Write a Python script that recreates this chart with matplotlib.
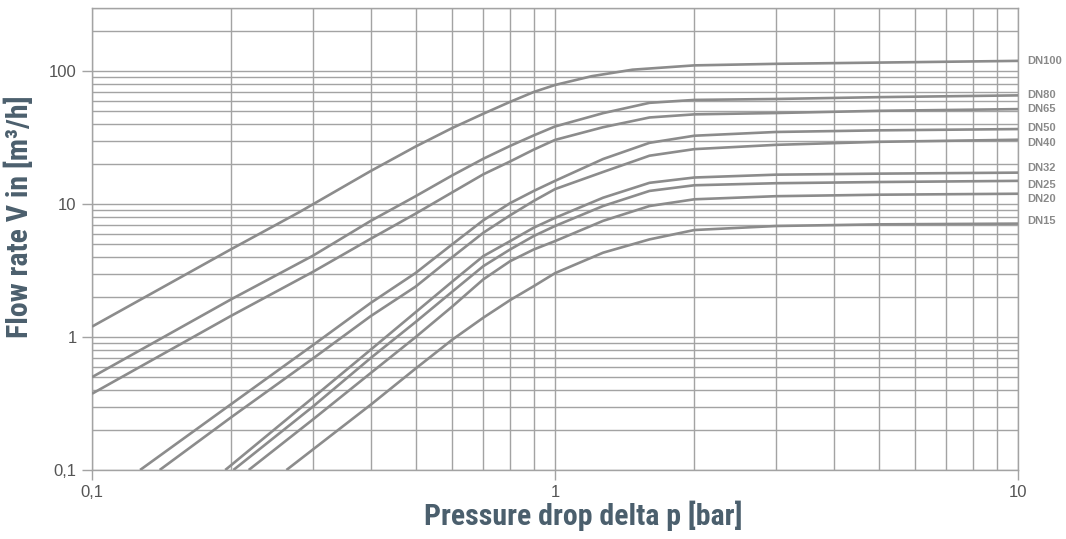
import matplotlib
matplotlib.use("Agg")
import matplotlib.pyplot as plt
from matplotlib.ticker import FixedLocator, LogLocator, NullFormatter

# pressure drop [bar] / flow rate [m3/h]
dn100_x = [0.1, 0.2, 0.28, 0.4, 0.5, 0.6, 0.7, 0.8, 0.9, 1.0, 1.2, 1.47, 2.0, 3.0, 5.0, 10.0]
dn100_y = [1.2, 4.6, 8.7, 17.8, 27.2, 37.5, 48.0, 59.0, 70.0, 79.0, 92.0, 103.0, 111.0, 114.0, 116.5, 120.0]

dn80_x = [0.1, 0.2, 0.3, 0.4, 0.5, 0.6, 0.7, 0.8, 0.9, 1.0, 1.27, 1.6, 2.0, 3.0, 5.0, 10.0]
dn80_y = [0.5, 1.93, 4.1, 7.5, 11.5, 16.5, 22.0, 27.5, 33.0, 38.5, 48.5, 58.0, 61.0, 62.0, 64.0, 66.0]

dn65_x = [0.1, 0.2, 0.3, 0.4, 0.5, 0.6, 0.7, 0.8, 0.9, 1.0, 1.27, 1.6, 2.0, 3.0, 5.0, 10.0]
dn65_y = [0.375, 1.45, 3.1, 5.5, 8.5, 12.3, 16.8, 21.0, 25.8, 30.5, 38.0, 45.0, 47.5, 48.6, 50.5, 52.0]

dn50_x = [0.127, 0.2, 0.3, 0.4, 0.5, 0.6, 0.7, 0.8, 0.9, 1.0, 1.27, 1.6, 2.0, 3.0, 5.0, 10.0]
dn50_y = [0.1, 0.314, 0.87, 1.81, 3.04, 5.0, 7.57, 10.2, 12.6, 15.0, 21.9, 29.0, 32.8, 35.0, 36.0, 36.8]

dn40_x = [0.14, 0.2, 0.3, 0.4, 0.5, 0.6, 0.7, 0.8, 0.9, 1.0, 1.27, 1.6, 2.0, 3.0, 5.0, 10.0]
dn40_y = [0.1, 0.25, 0.69, 1.44, 2.4, 4.0, 6.1, 8.26, 10.6, 13.0, 17.5, 23.2, 26.0, 28.0, 29.5, 30.6]

dn32_x = [0.194, 0.3, 0.4, 0.5, 0.6, 0.7, 0.8, 0.9, 1.0, 1.27, 1.6, 2.0, 3.0, 5.0, 10.0]
dn32_y = [0.1, 0.35, 0.805, 1.54, 2.62, 4.07, 5.28, 6.67, 7.9, 11.2, 14.5, 15.9, 16.7, 17.0, 17.3]

dn25_x = [0.202, 0.3, 0.4, 0.5, 0.6, 0.7, 0.8, 0.9, 1.0, 1.27, 1.6, 2.0, 3.0, 5.0, 10.0]
dn25_y = [0.1, 0.3, 0.697, 1.3, 2.2, 3.42, 4.57, 5.77, 6.86, 9.7, 12.6, 13.9, 14.4, 14.7, 15.0]

dn20_x = [0.218, 0.3, 0.4, 0.5, 0.6, 0.7, 0.8, 0.9, 1.0, 1.27, 1.6, 2.0, 3.0, 5.0, 10.0]
dn20_y = [0.1, 0.24, 0.537, 1.0, 1.7, 2.72, 3.73, 4.57, 5.28, 7.5, 9.7, 10.9, 11.5, 11.8, 12.0]

dn15_x = [0.263, 0.4, 0.5, 0.6, 0.7, 0.8, 0.9, 1.0, 1.27, 1.6, 2.0, 3.0, 5.0, 10.0]
dn15_y = [0.1, 0.31, 0.58, 0.957, 1.4, 1.9, 2.42, 3.03, 4.32, 5.44, 6.4, 6.86, 7.06, 7.15]

series = [
    ("DN100", dn100_x, dn100_y),
    ("DN80", dn80_x, dn80_y),
    ("DN65", dn65_x, dn65_y),
    ("DN50", dn50_x, dn50_y),
    ("DN40", dn40_x, dn40_y),
    ("DN32", dn32_x, dn32_y),
    ("DN25", dn25_x, dn25_y),
    ("DN20", dn20_x, dn20_y),
    ("DN15", dn15_x, dn15_y),
]
# small vertical nudges (points) so the end labels don't overlap
label_nudge = {"DN100": 0, "DN80": 0, "DN65": 0, "DN50": 1, "DN40": -2,
               "DN32": 3, "DN25": -3, "DN20": -4, "DN15": 2}

grid_col = "#a3a3a3"
line_col = "#8c8c8c"
title_col = "#4b5f6d"

fig = plt.figure(figsize=(10.66, 5.39), dpi=100)
ax = fig.add_axes([92 / 1066, 69 / 539, 926 / 1066, 462 / 539])
ax.set_xscale("log")
ax.set_yscale("log")
ax.set_xlim(0.1, 10)
ax.set_ylim(0.1, 300)

for name, xs, ys in series:
    ax.plot(xs, ys, color=line_col, lw=1.9, solid_capstyle="butt", zorder=3)
    ax.annotate(name, xy=(10, ys[-1]), xytext=(7, label_nudge[name]),
                textcoords="offset points", va="center", ha="left",
                fontsize=8, fontweight="bold", color="#8a8a8a",
                family="Liberation Sans", annotation_clip=False)

ax.xaxis.set_major_locator(FixedLocator([0.1, 1, 10]))
ax.yaxis.set_major_locator(FixedLocator([0.1, 1, 10, 100]))
ax.xaxis.set_minor_locator(LogLocator(base=10, subs=range(2, 10)))
ax.yaxis.set_minor_locator(LogLocator(base=10, subs=range(2, 10)))
ax.xaxis.set_minor_formatter(NullFormatter())
ax.yaxis.set_minor_formatter(NullFormatter())
ax.set_xticklabels(["0,1", "1", "10"])
ax.set_yticklabels(["0,1", "1", "10", "100"])

ax.grid(True, which="both", color=grid_col, lw=1.0)
ax.set_axisbelow(True)
ax.tick_params(which="major", direction="out", length=7, width=1, color=grid_col,
               labelsize=12, labelcolor="#555555", pad=4)
ax.tick_params(which="minor", length=0)
for lab in ax.get_xticklabels() + ax.get_yticklabels():
    lab.set_family("Liberation Sans")
for sp in ax.spines.values():
    sp.set_color(grid_col)
    sp.set_linewidth(1.0)

ax.set_xlabel("Pressure drop delta p [bar]", fontsize=21.5, fontweight="bold",
              color=title_col, family=["Roboto Condensed", "Roboto"])
ax.set_ylabel("Flow rate V in [m³/h]", fontsize=21.5, fontweight="bold",
              color=title_col, family=["Roboto Condensed", "Roboto"])
ax.xaxis.set_label_coords(0.531, -0.066)
ax.yaxis.set_label_coords(-0.063, 0.548)

fig.savefig("out.png", dpi=100)
